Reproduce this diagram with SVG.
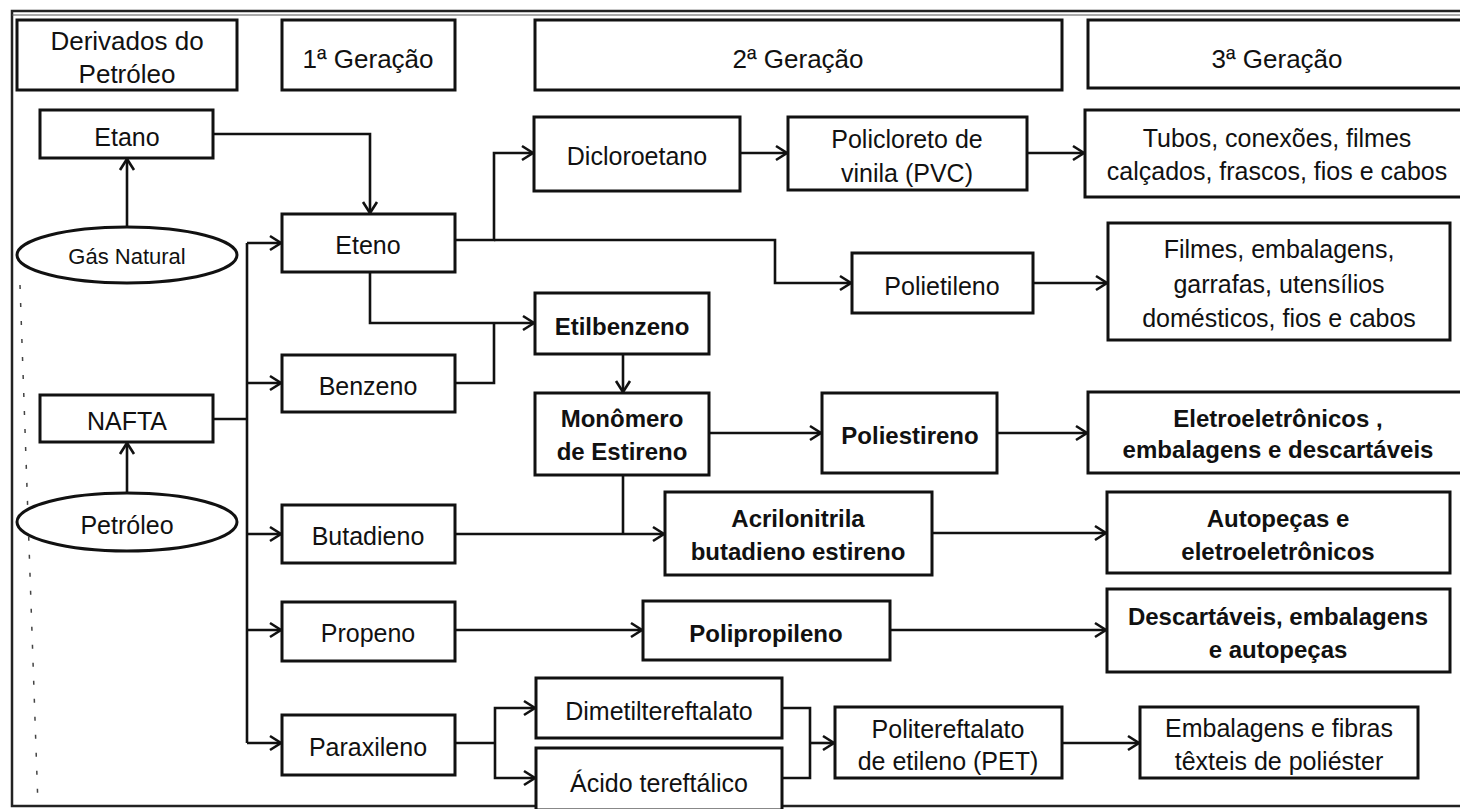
<svg xmlns="http://www.w3.org/2000/svg" width="1460" height="809" viewBox="0 0 1460 809">
<defs>
<marker id="arr" markerUnits="userSpaceOnUse" markerWidth="16" markerHeight="18" refX="13" refY="9" orient="auto">
<path d="M2,2 L13,9 L2,16" fill="none" stroke="#111" stroke-width="2.6" stroke-linejoin="miter"/>
</marker>
<style>
.box{fill:#fff;stroke:#111;stroke-width:3}
.ell{fill:#fff;stroke:#111;stroke-width:3}
.t{font-family:"Liberation Sans",Arial,sans-serif;font-size:25px;fill:#111;text-anchor:middle}
.b{font-family:"Liberation Sans",Arial,sans-serif;font-size:24px;font-weight:bold;fill:#111;text-anchor:middle}
.h{font-family:"Liberation Sans",Arial,sans-serif;font-size:26px;fill:#111;text-anchor:middle}
.c{fill:none;stroke:#111;stroke-width:2.6}
.ca{fill:none;stroke:#111;stroke-width:2.6;marker-end:url(#arr)}
</style>
</defs>
<rect x="0" y="0" width="1460" height="809" fill="#fff"/>
<rect x="12" y="11" width="1460" height="795" fill="none" stroke="#222" stroke-width="2.5"/>
<line x1="12" y1="15" x2="1460" y2="15" stroke="#555" stroke-width="1"/>
<line x1="20" y1="285" x2="38" y2="806" stroke="#444" stroke-width="1.5" stroke-dasharray="4 14"/>

<g id="h-derivados"><rect class="box" x="17" y="20" width="220" height="70"/><text class="h" x="127" y="50">Derivados do</text><text class="h" x="127" y="83">Petróleo</text></g>
<g id="h-1ger"><rect class="box" x="282" y="20" width="173" height="70"/><text class="h" x="368" y="68">1ª Geração</text></g>
<g id="h-2ger"><rect class="box" x="535" y="20" width="527" height="70"/><text class="h" x="798" y="68">2ª Geração</text></g>
<g id="h-3ger"><rect class="box" x="1088" y="20" width="390" height="68"/><text class="h" x="1277" y="68">3ª Geração</text></g>

<g id="connectors">
<path class="ca" d="M127,227 V159"/>
<path class="ca" d="M127,493 V443"/>
<path class="ca" d="M213,134 H370 V213"/>
<path class="c" d="M213,419 H247"/>
<path class="c" d="M247,243 V743"/>
<path class="ca" d="M247,243 H281"/>
<path class="ca" d="M247,383 H281"/>
<path class="ca" d="M247,534 H281"/>
<path class="ca" d="M247,630 H281"/>
<path class="ca" d="M247,743 H281"/>
<path class="ca" d="M455,240 H494 V153 H533"/>
<path class="ca" d="M494,240 H775 V283 H851"/>
<path class="ca" d="M370,272 V323 H534"/>
<path class="c" d="M455,383 H494 V323"/>
<path class="ca" d="M740,153 H787"/>
<path class="ca" d="M1027,153 H1084"/>
<path class="ca" d="M1033,283 H1107"/>
<path class="ca" d="M623,354 V392"/>
<path class="ca" d="M709,433 H821"/>
<path class="ca" d="M997,433 H1087"/>
<path class="c" d="M623,475 V534"/>
<path class="ca" d="M455,534 H664"/>
<path class="ca" d="M932,533 H1106"/>
<path class="ca" d="M455,630 H642"/>
<path class="ca" d="M890,630 H1106"/>
<path class="c" d="M455,743 H495"/>
<path class="ca" d="M495,743 V708 H535"/>
<path class="ca" d="M495,743 V778 H535"/>
<path class="c" d="M782,708 H810 V778 H782"/>
<path class="ca" d="M810,743 H834"/>
<path class="ca" d="M1062,743 H1139"/>
</g>

<g id="etano"><rect class="box" x="40" y="110" width="173" height="48"/><text class="t" x="127" y="146">Etano</text></g>
<g id="gas-natural"><ellipse class="ell" cx="127" cy="255" rx="110" ry="28"/><text class="t" style="font-size:22px" x="127" y="264">Gás Natural</text></g>
<g id="nafta"><rect class="box" x="40" y="395" width="173" height="47"/><text class="t" x="127" y="430">NAFTA</text></g>
<g id="petroleo"><ellipse class="ell" cx="127" cy="522" rx="110" ry="29"/><text class="t" x="127" y="534">Petróleo</text></g>

<g id="eteno"><rect class="box" x="282" y="214" width="173" height="58"/><text class="t" x="368" y="254">Eteno</text></g>
<g id="benzeno"><rect class="box" x="282" y="355" width="173" height="57"/><text class="t" x="368" y="395">Benzeno</text></g>
<g id="butadieno"><rect class="box" x="282" y="505" width="173" height="58"/><text class="t" x="368" y="545">Butadieno</text></g>
<g id="propeno"><rect class="box" x="282" y="602" width="173" height="59"/><text class="t" x="368" y="642">Propeno</text></g>
<g id="paraxileno"><rect class="box" x="282" y="715" width="173" height="60"/><text class="t" x="368" y="756">Paraxileno</text></g>

<g id="dicloroetano"><rect class="box" x="534" y="117" width="206" height="74"/><text class="t" x="637" y="165">Dicloroetano</text></g>
<g id="pvc"><rect class="box" x="788" y="117" width="239" height="73"/><text class="t" x="907" y="148">Policloreto de</text><text class="t" x="907" y="182">vinila (PVC)</text></g>
<g id="polietileno"><rect class="box" x="852" y="253" width="181" height="60"/><text class="t" x="942" y="295">Polietileno</text></g>
<g id="etilbenzeno"><rect class="box" x="535" y="293" width="174" height="61"/><text class="b" x="622" y="335">Etilbenzeno</text></g>
<g id="monomero"><rect class="box" x="535" y="393" width="174" height="82"/><text class="b" x="622" y="427">Monômero</text><text class="b" x="622" y="460">de Estireno</text></g>
<g id="poliestireno"><rect class="box" x="822" y="393" width="175" height="80"/><text class="b" x="910" y="444">Poliestireno</text></g>
<g id="abs"><rect class="box" x="665" y="492" width="267" height="83"/><text class="b" x="798" y="527">Acrilonitrila</text><text class="b" x="798" y="560">butadieno estireno</text></g>
<g id="polipropileno"><rect class="box" x="643" y="601" width="247" height="59"/><text class="b" x="766" y="642">Polipropileno</text></g>
<g id="dimetil"><rect class="box" x="536" y="678" width="246" height="60"/><text class="t" x="659" y="720">Dimetiltereftalato</text></g>
<g id="acido"><rect class="box" x="536" y="748" width="246" height="62"/><text class="t" x="659" y="792">Ácido tereftálico</text></g>
<g id="pet"><rect class="box" x="835" y="707" width="227" height="71"/><text class="t" x="948" y="738">Politereftalato</text><text class="t" x="948" y="770">de etileno (PET)</text></g>

<g id="tubos"><rect class="box" x="1085" y="110" width="390" height="87"/><text class="t" x="1277" y="147">Tubos, conexões, filmes</text><text class="t" x="1277" y="180">calçados, frascos, fios e cabos</text></g>
<g id="filmes"><rect class="box" x="1108" y="223" width="342" height="117"/><text class="t" x="1279" y="258">Filmes, embalagens,</text><text class="t" x="1279" y="293">garrafas, utensílios</text><text class="t" x="1279" y="327">domésticos, fios e cabos</text></g>
<g id="eletro"><rect class="box" x="1088" y="392" width="390" height="81"/><text class="b" x="1278" y="427">Eletroeletrônicos ,</text><text class="b" x="1278" y="458">embalagens e descartáveis</text></g>
<g id="autopecas"><rect class="box" x="1107" y="492" width="343" height="81"/><text class="b" x="1278" y="527">Autopeças e</text><text class="b" x="1278" y="560">eletroeletrônicos</text></g>
<g id="descartaveis"><rect class="box" x="1107" y="589" width="343" height="83"/><text class="b" x="1278" y="625">Descartáveis, embalagens</text><text class="b" x="1278" y="658">e autopeças</text></g>
<g id="embalagens"><rect class="box" x="1140" y="707" width="278" height="71"/><text class="t" x="1279" y="737">Embalagens e fibras</text><text class="t" x="1279" y="770">têxteis de poliéster</text></g>
</svg>
